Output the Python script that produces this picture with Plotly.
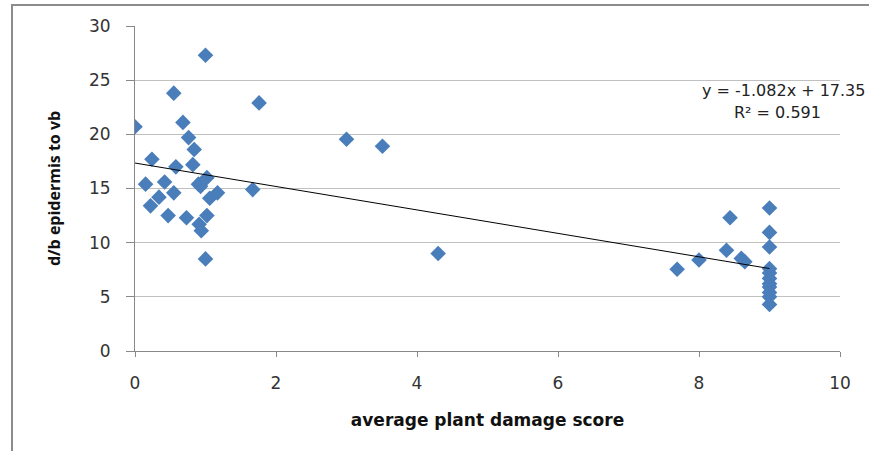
import plotly.graph_objects as go

# data
damage_score = [0.0, 1.0, 0.55, 1.76, 0.68, 0.76, 0.84, 0.24, 0.58, 0.82, 1.02,
                0.15, 0.42, 0.55, 0.90, 0.93, 1.17, 1.06, 1.67, 0.34, 0.22,
                0.47, 0.73, 1.02, 0.91, 0.94, 1.00,
                3.0, 3.51, 4.3,
                7.69, 8.0, 8.39, 8.44, 8.6, 8.65,
                9.0, 9.0, 9.0, 9.0, 9.0, 9.0, 9.0, 9.0, 9.0, 9.0, 9.0]
epidermis_vb = [20.7, 27.3, 23.8, 22.9, 21.1, 19.7, 18.6, 17.7, 17.0, 17.2, 16.0,
                15.4, 15.6, 14.6, 15.4, 15.2, 14.6, 14.1, 14.9, 14.2, 13.4,
                12.5, 12.3, 12.5, 11.7, 11.1, 8.5,
                19.55, 18.9, 9.0,
                7.55, 8.4, 9.3, 12.3, 8.55, 8.25,
                13.2, 10.95, 9.6, 7.6, 7.2, 6.7, 6.2, 5.9, 5.4, 5.0, 4.3]

trend_slope = -1.082
trend_intercept = 17.35
trend_r2 = 0.591

x_ticks = [0, 2, 4, 6, 8, 10]
y_ticks = [0, 5, 10, 15, 20, 25, 30]

wide_font = "DejaVu Sans, Verdana, sans-serif"
narrow_font = "Open Sans, Lato, sans-serif"

fig = go.Figure()

fig.add_trace(go.Scatter(
    x=damage_score, y=epidermis_vb, mode="markers",
    marker=dict(symbol="diamond", size=12, color="#4A7EBB"),
    showlegend=False, hoverinfo="x+y"))

x_lo, x_hi = min(damage_score), max(damage_score)
fig.add_trace(go.Scatter(
    x=[x_lo, x_hi],
    y=[trend_slope * x_lo + trend_intercept, trend_slope * x_hi + trend_intercept],
    mode="lines", line=dict(color="black", width=1),
    showlegend=False, hoverinfo="skip"))

W, H = 869, 451
L, R, T, B = 135, 29, 26, 100
pw, ph = W - L - R, H - T - B

fig.update_layout(
    width=W, height=H,
    margin=dict(l=L, r=R, t=T, b=B),
    paper_bgcolor="white", plot_bgcolor="white",
    font=dict(family=wide_font, size=16, color="#333333"),
    xaxis=dict(range=[0, 10], tickvals=x_ticks, showgrid=False, zeroline=False,
               showline=True, linecolor="#888888", linewidth=1,
               ticks="outside", ticklen=5, tickcolor="#888888",
               tickfont=dict(family=wide_font, size=17, color="#333333"),
               ticklabelstandoff=12,
               title=dict(text="<b>average plant damage score</b>",
                          font=dict(family=wide_font, size=17, color="#111111"),
                          standoff=21)),
    yaxis=dict(range=[0, 30], tickvals=y_ticks, showgrid=True, gridcolor="#C0C0C0",
               gridwidth=1, zeroline=False,
               showline=True, linecolor="#888888", linewidth=1,
               ticks="outside", ticklen=8, tickcolor="#888888",
               tickfont=dict(family=wide_font, size=17, color="#333333"),
               ticklabelstandoff=12,
               title=dict(text="<b>d/b epidermis to vb</b>",
                          font=dict(family=narrow_font, size=16, color="#111111"),
                          standoff=24)),
)

eq_text = f"y = {trend_slope:.3f}x + {trend_intercept:.2f}"
r2_text = f"R² = {trend_r2:.3f}"
fig.add_annotation(text=eq_text, xref="paper", yref="paper",
                   x=(867 - L) / pw, y=1 - (91 - T) / ph, xanchor="right", yanchor="middle",
                   showarrow=False, font=dict(family=wide_font, size=16, color="#222222"))
fig.add_annotation(text=r2_text, xref="paper", yref="paper",
                   x=(777 - L) / pw, y=1 - (112 - T) / ph, xanchor="center", yanchor="middle",
                   showarrow=False, font=dict(family=wide_font, size=16, color="#222222"))

# outer chart border
fig.add_shape(type="rect", xref="paper", yref="paper",
              x0=(12 - L) / pw, x1=(W + 20 - L) / pw,
              y0=1 - (H + 20 - T) / ph, y1=1 + (T - 5) / ph,
              line=dict(color="#8C8C8C", width=2), layer="below")

fig.write_html("out.html", config={"displayModeBar": False},
               post_script="document.body.style.margin='0';document.body.style.overflow='hidden';")
